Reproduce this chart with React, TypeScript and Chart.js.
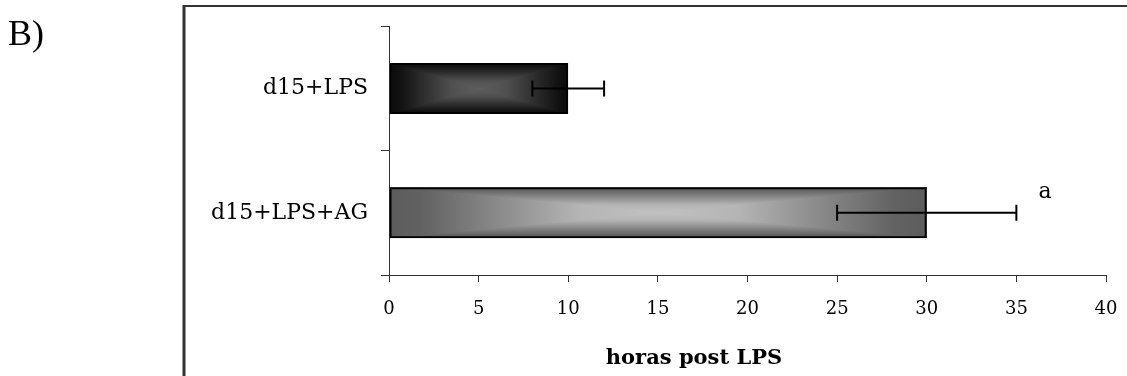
import React, { useEffect, useRef } from 'react';
import { Chart, registerables } from 'chart.js';

Chart.register(...registerables);

// ---- data ----
const categories: string[] = ['d15+LPS', 'd15+LPS+AG'];
const hours: number[] = [10, 30];
const errors: number[] = [2, 5];
const significance: string[] = ['', 'a'];
const xMin = 0;
const xMax = 40;
const xStep = 5;
const xTitle = 'horas post LPS';
const panelLabel = 'B)';

// ---- styles ----
const SIG_VALUE = 36.6;
const SERIF = '"DejaVu Serif", serif';
const barStops: [number, number][][] = [
  [[0, 10], [0.12, 18], [0.7, 80], [1, 94]],
  [[0, 92], [0.12, 98], [0.7, 180], [1, 194]],
];

function shade(stops: [number, number][], t: number): number {
  for (let i = 1; i < stops.length; i++) {
    if (t <= stops[i][0]) {
      const [t0, c0] = stops[i - 1];
      const [t1, c1] = stops[i];
      return c0 + ((c1 - c0) * (t - t0)) / (t1 - t0);
    }
  }
  return stops[stops.length - 1][1];
}

const rectGradientPlugin = {
  id: 'rectGradient',
  beforeDatasetsDraw(chart: any) {
    const ctx = chart.ctx;
    const meta = chart.getDatasetMeta(0);
    meta.data.forEach((el: any, i: number) => {
      const p = el.getProps(['x', 'y', 'base', 'height'], true);
      const l = Math.round(Math.min(p.base, p.x));
      const r = Math.round(Math.max(p.base, p.x));
      const t = Math.round(p.y - p.height / 2);
      const b = Math.round(p.y + p.height / 2);
      const w = r - l;
      const h = b - t;
      if (w <= 0 || h <= 0) return;
      const off = document.createElement('canvas');
      off.width = w;
      off.height = h;
      const octx = off.getContext('2d')!;
      const img = octx.createImageData(w, h);
      const hw = w / 2;
      const hh = h / 2;
      for (let yy = 0; yy < h; yy++) {
        for (let xx = 0; xx < w; xx++) {
          const dx = Math.abs(xx + 0.5 - hw) / hw;
          const dy = Math.abs(yy + 0.5 - hh) / hh;
          const tt = 1 - Math.max(dx, dy);
          const c = Math.round(shade(barStops[i % barStops.length], tt));
          const k = (yy * w + xx) * 4;
          img.data[k] = c;
          img.data[k + 1] = c;
          img.data[k + 2] = c;
          img.data[k + 3] = 255;
        }
      }
      octx.putImageData(img, 0, 0);
      ctx.drawImage(off, l, t);
    });
  },
};

const errorBarPlugin = {
  id: 'errorBars',
  afterDatasetsDraw(chart: any) {
    const ctx = chart.ctx;
    const xs = chart.scales.x;
    const meta = chart.getDatasetMeta(0);
    ctx.save();
    ctx.strokeStyle = '#000';
    ctx.lineWidth = 2;
    meta.data.forEach((el: any, i: number) => {
      const y = el.y;
      const x0 = xs.getPixelForValue(hours[i] - errors[i]);
      const x1 = xs.getPixelForValue(hours[i] + errors[i]);
      ctx.beginPath();
      ctx.moveTo(x0, y);
      ctx.lineTo(x1, y);
      ctx.moveTo(x0, y - 8);
      ctx.lineTo(x0, y + 8);
      ctx.moveTo(x1, y - 8);
      ctx.lineTo(x1, y + 8);
      ctx.stroke();
      if (significance[i]) {
        ctx.fillStyle = '#000';
        ctx.font = '22px ' + SERIF;
        ctx.textAlign = 'center';
        ctx.textBaseline = 'alphabetic';
        ctx.fillText(significance[i], xs.getPixelForValue(SIG_VALUE), y - 15);
      }
    });
    ctx.restore();
  },
};

const framePlugin = {
  id: 'frame',
  afterDraw(chart: any) {
    const ctx = chart.ctx;
    ctx.save();
    ctx.strokeStyle = '#333';
    ctx.lineWidth = 2;
    ctx.beginPath();
    ctx.moveTo(183, 6);
    ctx.lineTo(1127, 6);
    ctx.stroke();
    ctx.lineWidth = 3;
    ctx.beginPath();
    ctx.moveTo(184, 5);
    ctx.lineTo(184, 376);
    ctx.stroke();
    ctx.fillStyle = '#000';
    ctx.font = '36px "Liberation Serif", serif';
    ctx.textAlign = 'left';
    ctx.textBaseline = 'alphabetic';
    ctx.fillText(panelLabel, 8, 45);
    // axis title
    ctx.font = 'bold 21px ' + SERIF;
    ctx.textAlign = 'center';
    ctx.fillText(xTitle, 694, 364);
    ctx.restore();
  },
};

export default function App() {
  const ref = useRef<HTMLCanvasElement>(null);
  useEffect(() => {
    if (!ref.current) return;
    const chart = new Chart(ref.current, {
      type: 'bar',
      data: {
        labels: categories,
        datasets: [
          {
            data: hours,
            backgroundColor: 'rgba(0,0,0,0)',
            borderColor: '#000',
            borderWidth: 2,
            borderSkipped: false,
            barPercentage: 0.41,
            categoryPercentage: 1,
          },
        ],
      },
      options: {
        indexAxis: 'y',
        responsive: false,
        animation: false,
        layout: { padding: { left: 0, right: 21, top: 26, bottom: 0 } },
        plugins: { legend: { display: false }, tooltip: { enabled: false } },
        scales: {
          x: {
            min: xMin,
            max: xMax,
            ticks: {
              stepSize: xStep,
              color: '#000',
              font: { family: SERIF, size: 18 },
              padding: 17,
              maxRotation: 0,
            },
            grid: { drawOnChartArea: false, color: '#333', tickLength: 7 },
            border: { color: '#333', width: 1 },
            afterFit: (s: any) => {
              s.height = 101;
              s.paddingLeft = 0;
              s.paddingRight = 0;
            },
          },
          y: {
            ticks: {
              color: '#000',
              font: { family: SERIF, size: 22 },
              padding: 13,
            },
            grid: { drawOnChartArea: false, color: '#333', tickLength: 8, offset: true },
            border: { color: '#333', width: 1 },
            afterFit: (s: any) => {
              s.width = 389;
            },
          },
        },
      },
      plugins: [rectGradientPlugin, errorBarPlugin, framePlugin],
    } as any);
    return () => chart.destroy();
  }, []);
  return (
    <div style={{ position: 'absolute', left: 0, top: 0, width: 1127, height: 376, background: '#fff' }}>
      <canvas ref={ref} width={1127} height={376} style={{ display: 'block' }} />
    </div>
  );
}
